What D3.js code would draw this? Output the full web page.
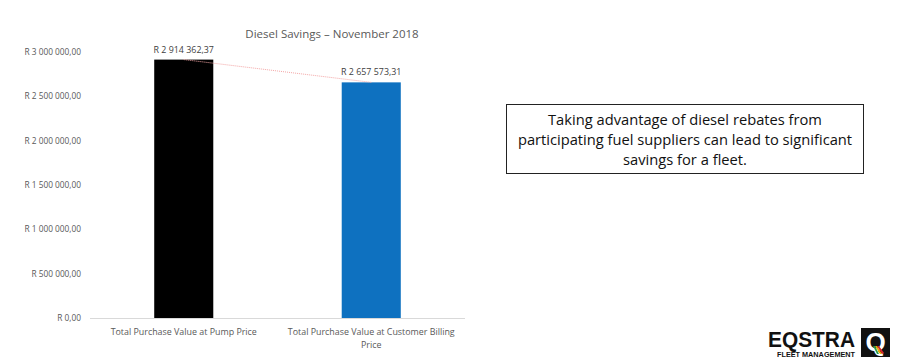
<!DOCTYPE html>
<html>
<head>
<meta charset="utf-8">
<script src="https://d3js.org/d3.v7.min.js"></script>
<style>
  body { margin: 0; background: #fff; }
  svg { font-family: "Open Sans", "Liberation Sans", sans-serif; }
</style>
</head>
<body>
<svg id="chart" width="900" height="363"></svg>
<script>
// data
var categories = ["Total Purchase Value at Pump Price", "Total Purchase Value at Customer Billing Price"];
var values = [2914362.37, 2657573.31];
var valueLabels = ["R 2 914 362,37", "R 2 657 573,31"];
var yTicks = [0, 500000, 1000000, 1500000, 2000000, 2500000, 3000000];
var yTickLabels = ["R 0,00", "R 500 000,00", "R 1 000 000,00", "R 1 500 000,00", "R 2 000 000,00", "R 2 500 000,00", "R 3 000 000,00"];
var barColors = ["#000000", "#0e71c0"];
var title = "Diesel Savings \u2013 November 2018";
var note = ["Taking advantage of diesel rebates from", "participating fuel suppliers can lead to significant", "savings for a fleet."];

var svg = d3.select("#chart");

var x = d3.scaleBand().domain(categories).range([90, 465]).paddingInner(0.685).paddingOuter(0.3425);
var y = d3.scaleLinear().domain([0, 3000000]).range([318, 52]);

// title
svg.append("text")
  .attr("x", 332).attr("y", 38)
  .attr("text-anchor", "middle")
  .attr("font-size", "11.5px")
  .attr("fill", "#595959")
  .text(title);

// y axis (labels only)
var yAxisG = svg.append("g")
  .attr("transform", "translate(84,0)")
  .call(d3.axisLeft(y).tickValues(yTicks).tickSize(0).tickPadding(3)
    .tickFormat(function(d, i) { return yTickLabels[i]; }));
yAxisG.select(".domain").remove();
yAxisG.selectAll("text").attr("font-size", "8.3px").attr("fill", "#595959")
  .attr("font-family", "'Open Sans', sans-serif");

// bars
svg.selectAll("rect.bar")
  .data(values)
  .enter()
  .append("rect")
  .attr("class", "bar")
  .attr("x", function(d, i) { return x(categories[i]); })
  .attr("y", function(d) { return y(d); })
  .attr("width", x.bandwidth())
  .attr("height", function(d) { return y(0) - y(d); })
  .attr("fill", function(d, i) { return barColors[i]; });

// x axis baseline
var xAxisG = svg.append("g")
  .attr("transform", "translate(0," + y(0) + ")")
  .call(d3.axisBottom(x).tickSize(0).tickPadding(9).tickFormat(""));
xAxisG.select(".domain").attr("stroke", "#d9d9d9").attr("d", "M90,0.5H465");

// category labels (wrapped)
var catLines = [[categories[0]], ["Total Purchase Value at Customer Billing", "Price"]];
catLines.forEach(function(lines, i) {
  var t = svg.append("text")
    .attr("x", x(categories[i]) + x.bandwidth() / 2)
    .attr("y", y(0) + 17)
    .attr("text-anchor", "middle")
    .attr("font-size", "8.9px")
    .attr("fill", "#595959");
  lines.forEach(function(l, j) {
    t.append("tspan").attr("x", x(categories[i]) + x.bandwidth() / 2).attr("dy", j ? 12.5 : 0).text(l);
  });
});

// dotted connector
var line = d3.line()
  .x(function(d, i) { return x(categories[i]) + x.bandwidth() / 2; })
  .y(function(d) { return y(d); });
svg.append("path")
  .attr("d", line(values))
  .attr("fill", "none")
  .attr("stroke", "#f4a6a6")
  .attr("stroke-width", 1)
  .attr("stroke-dasharray", "1,1");

// value labels
svg.selectAll("text.val")
  .data(values)
  .enter()
  .append("text")
  .attr("class", "val")
  .attr("x", function(d, i) { return x(categories[i]) + x.bandwidth() / 2; })
  .attr("y", function(d) { return y(d) - 7; })
  .attr("text-anchor", "middle")
  .attr("font-size", "8.9px")
  .attr("fill", "#404040")
  .text(function(d, i) { return valueLabels[i]; });

// note box
svg.append("rect")
  .attr("x", 506.5).attr("y", 104.5).attr("width", 357).attr("height", 69)
  .attr("fill", "#fff").attr("stroke", "#222").attr("stroke-width", 1);
var nt = svg.append("text").attr("text-anchor", "middle").attr("font-size", "14.7px").attr("fill", "#111");
note.forEach(function(l, i) {
  nt.append("tspan").attr("x", 685).attr("y", 125 + i * 20).text(l);
});

// logo
var logo = svg.append("g");
logo.append("text").attr("x", 768).attr("y", 347)
  .attr("font-size", "22px").attr("font-weight", "bold").attr("fill", "#111")
  .attr("font-family", "'Liberation Sans', Arial, sans-serif")
  .attr("textLength", 87).attr("lengthAdjust", "spacingAndGlyphs")
  .text("EQSTRA");
logo.append("text").attr("x", 777).attr("y", 357)
  .attr("font-size", "6.8px").attr("font-weight", "bold").attr("fill", "#111")
  .attr("font-family", "'Liberation Sans', Arial, sans-serif")
  .attr("textLength", 78).attr("lengthAdjust", "spacingAndGlyphs")
  .text("FLEET MANAGEMENT");
logo.append("rect").attr("x", 861).attr("y", 328).attr("width", 29).attr("height", 29).attr("fill", "#111");
logo.append("text").attr("x", 875.5).attr("y", 351)
  .attr("text-anchor", "middle")
  .attr("font-size", "26px").attr("font-weight", "bold").attr("fill", "#fff")
  .attr("font-family", "'Liberation Sans', Arial, sans-serif")
  .text("Q");
logo.append("path").attr("d", "M875,346 L880,354 L882,354 L877,346 Z").attr("fill", "#e8b400");
logo.append("path").attr("d", "M877,346 L882,354 L884,353 L879,346 Z").attr("fill", "#d4262a");
logo.append("path").attr("d", "M873,346 L877,354 L879,354 L875,346 Z").attr("fill", "#2a9d4a");
</script>
</body>
</html>
